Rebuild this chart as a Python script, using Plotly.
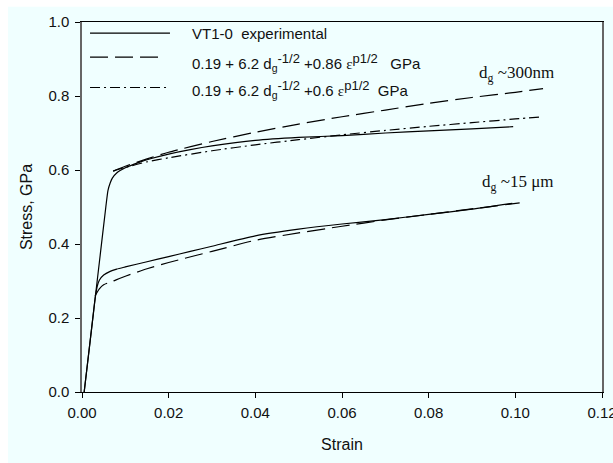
import plotly.graph_objects as go

# ---- data ----
strain_exp_300 = [0.0005, 0.002, 0.004, 0.0055, 0.006, 0.0065, 0.007, 0.008, 0.010, 0.013, 0.016, 0.02,
                  0.025, 0.03, 0.04, 0.05, 0.06, 0.07, 0.08, 0.09, 0.0995]
stress_exp_300 = [0.0, 0.15, 0.35, 0.50, 0.545, 0.565, 0.578, 0.592, 0.606, 0.62, 0.631, 0.643,
                  0.655, 0.665, 0.68, 0.688, 0.693, 0.700, 0.706, 0.711, 0.717]

strain_exp_15 = [0.0005, 0.0015, 0.0025, 0.003, 0.0035, 0.004, 0.005, 0.0065, 0.008, 0.01, 0.015, 0.02,
                 0.025, 0.03, 0.04, 0.05, 0.06, 0.07, 0.08, 0.09, 0.0993]
stress_exp_15 = [0.0, 0.10, 0.20, 0.25, 0.285, 0.302, 0.316, 0.326, 0.332, 0.338, 0.352, 0.366,
                 0.38, 0.394, 0.422, 0.44, 0.454, 0.466, 0.48, 0.494, 0.51]

strain_m086_300 = [0.0072, 0.01, 0.015, 0.02, 0.03, 0.04, 0.05, 0.06, 0.07, 0.08, 0.09, 0.1, 0.1064]
stress_m086_300 = [0.597, 0.61, 0.63, 0.648, 0.677, 0.702, 0.724, 0.744, 0.762, 0.78, 0.796, 0.81, 0.82]

strain_m06_300 = [0.0072, 0.01, 0.015, 0.02, 0.03, 0.04, 0.05, 0.06, 0.07, 0.08, 0.09, 0.1, 0.1064]
stress_m06_300 = [0.597, 0.607, 0.622, 0.633, 0.652, 0.668, 0.682, 0.695, 0.707, 0.718, 0.728, 0.738, 0.744]

strain_m086_15 = [0.003, 0.004, 0.005, 0.007, 0.01, 0.015, 0.02, 0.03, 0.04, 0.05, 0.06, 0.07, 0.08, 0.09, 0.101]
stress_m086_15 = [0.26, 0.279, 0.29, 0.299, 0.313, 0.333, 0.35, 0.38, 0.41, 0.43, 0.448, 0.465, 0.48, 0.495, 0.511]

x_ticks = [0.0, 0.02, 0.04, 0.06, 0.08, 0.10, 0.12]
y_ticks = [0.0, 0.2, 0.4, 0.6, 0.8, 1.0]

SUP = "<sup><span style='font-size:13px'>{}</span></sup>"
EPS = "<span style='font-family:Liberation Serif'>ε</span>"
legend_labels = [
    "VT1-0  experimental",
    "0.19 + 6.2 d<sub>g</sub>" + SUP.format("-1/2") + " +0.86 " + EPS + SUP.format("p1/2") + "   GPa",
    "0.19 + 6.2 d<sub>g</sub>" + SUP.format("-1/2") + " +0.6 " + EPS + SUP.format("p1/2") + "  GPa",
]
legend_dashes = ["solid", "18px,7px", "10px,4px,2px,4px"]

BG = "#F0FFFF"
LW = 1.2

fig = go.Figure()
for xs, ys, dash in [
    (strain_exp_300, stress_exp_300, "solid"),
    (strain_exp_15, stress_exp_15, "solid"),
    (strain_m086_300, stress_m086_300, "18px,7px"),
    (strain_m086_15, stress_m086_15, "18px,7px"),
    (strain_m06_300, stress_m06_300, "10px,4px,2px,4px"),
]:
    fig.add_trace(go.Scatter(x=xs, y=ys, mode="lines", showlegend=False,
                             line=dict(color="black", width=LW, dash=dash, shape="spline", smoothing=0.6)))

# white frame strips (top and left) of the picture
fig.add_shape(type="rect", xref="paper", yref="paper", x0=-0.2, x1=1.1, y0=1.0414, y1=1.1,
              fillcolor="white", line=dict(width=0), layer="below")
fig.add_shape(type="rect", xref="paper", yref="paper", x0=-0.2, x1=-0.1423, y0=-0.3, y1=1.1,
              fillcolor="white", line=dict(width=0), layer="below")

# manual legend
leg_line_y = [0.970, 0.905, 0.823]
leg_text_y = [0.970, 0.891, 0.818]
leg_x1 = [0.0203, 0.0187, 0.0198]
for lab, dash, ly, ty, x1 in zip(legend_labels, legend_dashes, leg_line_y, leg_text_y, leg_x1):
    fig.add_shape(type="line", xref="x", yref="y", x0=0.00185, x1=x1, y0=ly, y1=ly,
                  line=dict(color="black", width=LW, dash=dash))
    fig.add_annotation(x=0.0249, y=ty, xref="x", yref="y", text=lab, showarrow=False,
                       xanchor="left", yanchor="middle",
                       font=dict(family="Liberation Sans, Arial", size=15, color="#111"))

fig.add_annotation(x=0.0912, y=0.86, xref="x", yref="y", text="d<sub>g</sub> ~300nm", showarrow=False,
                   xanchor="left", yanchor="middle",
                   font=dict(family="Liberation Serif, Times New Roman", size=17, color="#111"))
fig.add_annotation(x=0.0918, y=0.566, xref="x", yref="y", text="d<sub>g</sub> ~15 μm", showarrow=False,
                   xanchor="left", yanchor="middle",
                   font=dict(family="Liberation Serif, Times New Roman", size=17, color="#111"))

fig.update_layout(
    width=613, height=463,
    margin=dict(l=82, r=11, t=22, b=71, autoexpand=False),
    paper_bgcolor=BG, plot_bgcolor=BG,
    font=dict(family="Liberation Sans, Arial", size=15, color="#111"),
    showlegend=False,
)
fig.update_xaxes(range=[0, 0.12], tickvals=x_ticks, tickformat=".2f", ticks="outside", ticklen=5,
                 ticklabelstandoff=2, ticklabeloverflow="allow", automargin=False,
                 tickcolor="black", showline=True, linecolor="black", linewidth=1.2, mirror=True,
                 showgrid=False, zeroline=False, title=dict(text="Strain", font=dict(size=16), standoff=18))
fig.update_yaxes(range=[0, 1.0], tickvals=y_ticks, tickformat=".1f", ticks="outside", ticklen=5,
                 ticklabelstandoff=3, automargin=False,
                 tickcolor="black", showline=True, linecolor="#666", linewidth=1.5, mirror=True,
                 showgrid=False, zeroline=False, title=dict(text="Stress, GPa", font=dict(size=16), standoff=12))

fig.write_html("out.html")
